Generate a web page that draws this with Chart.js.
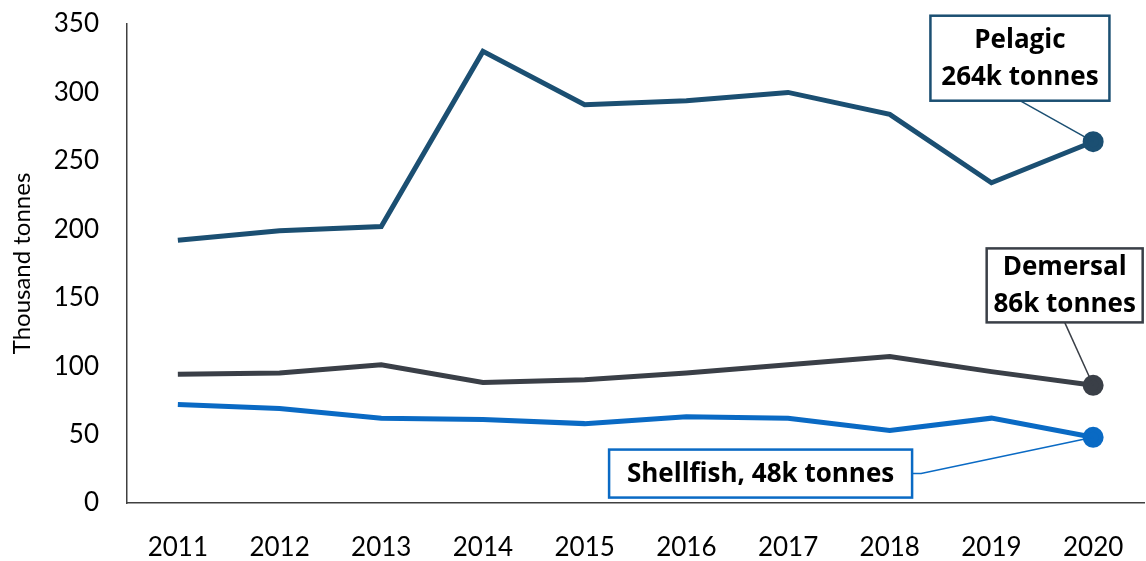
<!DOCTYPE html>
<html>
<head>
<meta charset="utf-8">
<script src="https://cdn.jsdelivr.net/npm/chart.js@4/dist/chart.umd.min.js"></script>
<style>
  html, body { margin: 0; padding: 0; background: #fff; }
  #wrap { width: 1146px; height: 561px; position: relative; }
</style>
</head>
<body>
<div id="wrap"><canvas id="chart"></canvas></div>
<script>
// Landings by species group, thousand tonnes
const years = ['2011', '2012', '2013', '2014', '2015', '2016', '2017', '2018', '2019', '2020'];
const pelagic = [192, 199, 202, 330, 291, 294, 300, 284, 234, 264];
const demersal = [94, 95, 101, 88, 90, 95, 101, 107, 96, 86];
const shellfish = [72, 69, 62, 61, 58, 63, 62, 53, 62, 48];
const yTicks = [0, 50, 100, 150, 200, 250, 300, 350];

const colPelagic = '#1B4F72';
const colDemersal = '#3A3F47';
const colShellfish = '#0A6AC4';
const fontFam = 'Lato, "Open Sans", sans-serif';
const boldFam = '"Open Sans", Lato, sans-serif';

// point marker only on last year
const lastOnly = (r) => years.map((_, i) => i === years.length - 1 ? r : 0);

// Callout boxes: centre in data units (category index, value)
const callouts = [
    { ds: 0, lines: ['Pelagic', '264k tonnes'], cx: 8.28, cy: 325, w: 179, h: 85, color: colPelagic, from: 'bottom' },
    { ds: 1, lines: ['Demersal', '86k tonnes'], cx: 8.72, cy: 159, w: 156, h: 74, color: colDemersal, from: 'bottom' },
    { ds: 2, lines: ['Shellfish, 48k tonnes'], cx: 5.73, cy: 21.5, w: 303, h: 48, color: colShellfish, from: 'right' }
];

const calloutPlugin = {
    id: 'callouts',
    afterDatasetsDraw(chart) {
        const ctx = chart.ctx;
        const xs = chart.scales.x, ys = chart.scales.y;
        callouts.forEach(c => {
            const meta = chart.getDatasetMeta(c.ds);
            const pt = meta.data[meta.data.length - 1];
            const bx = xs.getPixelForValue(c.cx) - c.w / 2;
            const by = ys.getPixelForValue(c.cy) - c.h / 2;
            ctx.save();
            // leader line
            ctx.strokeStyle = c.color;
            ctx.lineWidth = 1.5;
            ctx.beginPath();
            if (c.from === 'bottom') {
                ctx.moveTo(bx + c.w / 2, by + c.h);
            } else {
                ctx.moveTo(bx + c.w, by + c.h / 2);
                ctx.lineTo(bx + c.w + 9, by + c.h / 2);
            }
            ctx.lineTo(pt.x, pt.y);
            ctx.stroke();
            // box
            ctx.fillStyle = '#fff';
            ctx.fillRect(bx, by, c.w, c.h);
            ctx.lineWidth = 2.5;
            ctx.strokeRect(bx, by, c.w, c.h);
            // text
            ctx.fillStyle = '#000';
            ctx.font = 'bold 26px ' + boldFam;
            ctx.textAlign = 'center';
            ctx.textBaseline = 'middle';
            const lh = 37;
            const top = by + c.h / 2 - (c.lines.length - 1) * lh / 2;
            c.lines.forEach((t, i) => ctx.fillText(t, bx + c.w / 2, top + i * lh + 1));
            ctx.restore();
        });
    }
};

new Chart(document.getElementById('chart'), {
    type: 'line',
    data: {
        labels: years,
        datasets: [
            { label: 'Pelagic', data: pelagic, borderColor: colPelagic, backgroundColor: colPelagic, borderWidth: 5, pointRadius: lastOnly(8), pointHoverRadius: 0 },
            { label: 'Demersal', data: demersal, borderColor: colDemersal, backgroundColor: colDemersal, borderWidth: 5, pointRadius: lastOnly(8), pointHoverRadius: 0 },
            { label: 'Shellfish', data: shellfish, borderColor: colShellfish, backgroundColor: colShellfish, borderWidth: 5, pointRadius: lastOnly(8), pointHoverRadius: 0 }
        ]
    },
    options: {
        responsive: true,
        maintainAspectRatio: false,
        animation: false,
        layout: { autoPadding: false, padding: { top: 24, right: 2, left: 0, bottom: 0 } },
        plugins: {
            legend: { display: false },
            tooltip: { enabled: false }
        },
        scales: {
            x: {
                offset: true,
                grid: { display: false, drawTicks: false },
                border: { color: '#404040', width: 1.5 },
                ticks: { color: '#000', font: { family: fontFam, size: 26 }, padding: 29, maxRotation: 0 },
                afterFit(scale) {
                    scale.height = 58;
                    scale.paddingLeft = 0;
                    scale.paddingRight = 0;
                }
            },
            y: {
                min: 0,
                max: 350,
                afterBuildTicks(scale) { scale.ticks = yTicks.map(v => ({ value: v })); },
                grid: { display: false, drawTicks: false },
                border: { color: '#404040', width: 1.5 },
                ticks: { color: '#000', font: { family: fontFam, size: 26 }, padding: 28 },
                title: { display: true, text: 'Thousand tonnes', color: '#000', font: { family: fontFam, size: 24 }, padding: { top: 8, bottom: 0 } },
                afterFit(scale) {
                    scale.width = 127;
                    scale.paddingTop = 0;
                    scale.paddingBottom = 0;
                }
            }
        }
    },
    plugins: [calloutPlugin]
});
</script>
</body>
</html>
